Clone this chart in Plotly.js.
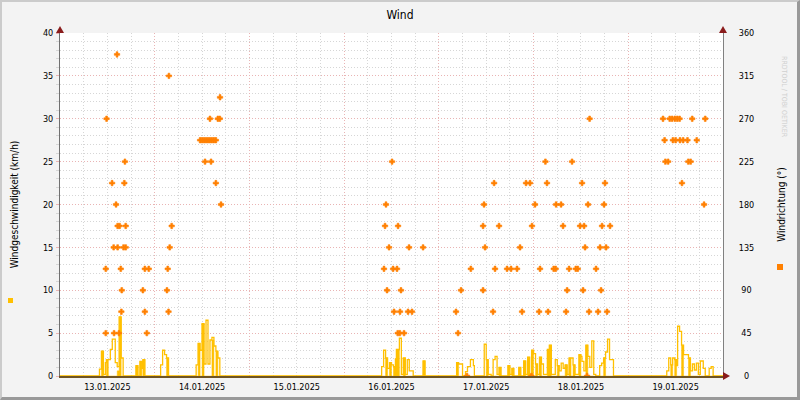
<!DOCTYPE html>
<html>
<head>
<meta charset="utf-8">
<script src="https://cdn.plot.ly/plotly-3.0.1.min.js"></script>
<style>
  html, body { margin: 0; padding: 0; background: #F3F3F3; }
  #wrap { position: relative; width: 800px; height: 400px; }
  #chart { width: 800px; height: 400px; }
  #frame { position: absolute; left: 0; top: 0; width: 800px; height: 400px; box-sizing: border-box;
           border-top: 2px solid #CBCBCB; border-left: 2px solid #CBCBCB;
           border-bottom: 3px solid #999999; border-right: 3px solid #999999; pointer-events: none; }
</style>
</head>
<body>
<div id="wrap"><div id="chart"></div><div id="frame"></div></div>
<script>
// ---- data (hours since 13.01.2025 00:00) ----
const startDay = Date.UTC(2025, 0, 13);
const speedHours = [0,10,10.5,11,11.5,11.75,12.25,12.75,13.25,14,14.5,15,15.5,16,19.25,19.75,20.25,20.75,21,21.5,
  25.5,26,26.5,27,27.5,34.5,35,35.5,36,36.5,37,37.5,38,38.5,39,39.5,40,40.5,
  81.5,82,82.5,83,83.5,84,84.5,85,85.25,86,86.5,87,87.5,88,88.5,89.5,92,92.5,
  100.5,101,102,102.75,103.25,104,104.75,105,107.5,108,108.5,109.25,109.75,110.25,110.75,111.25,111.75,
  113.5,114,114.5,115,116.25,116.75,117.5,118,118.5,119,119.5,120,120.5,121,121.5,122,122.5,123.5,124,124.5,
  125.5,126,126.5,127,127.5,128,128.5,129,129.5,130,130.5,131.5,132,132.25,132.75,133.25,133.75,134.25,134.75,135.25,135.75,
  136.75,137.25,137.75,138.25,138.75,139.25,140.25,
  153.75,154.25,154.75,155.25,155.75,156.25,156.5,157,157.5,158,159.25,159.75,160.25,160.75,161.25,161.75,162.25,163,163.5,164.5,165,165.5,168];
const gustKmh = [0,0.8,2.9,0.2,1.55,1.9,1.9,3.1,4.3,1.55,1.1,6.9,2.1,0,1.2,0,1.7,0.9,1.9,0,
  1.3,3.0,2.5,2.1,0,1.3,3.8,3.0,6.1,1.4,6.5,1.4,4.2,4.5,3.5,2.9,2.1,0,
  1.1,3.0,2.1,0.9,1.55,1.3,1.1,2.0,3.1,4.4,0.2,2.1,0.2,1.9,0.6,0,1.75,0,
  1.55,1.4,0,0.5,1.1,1.9,1.2,0,3.7,1.9,0.2,0,1.9,2.3,0.2,1.0,0,
  1.2,0.2,0.9,0,1.0,0,1.75,0.2,2.2,0.2,3.0,2.6,1.4,0.2,2.2,1.4,0.2,3.1,3.6,0.2,
  1.9,1.2,0.6,1.5,0.9,1.3,0.2,2.1,2.1,1.3,0.2,2.5,2.3,1.7,0.6,3.6,2.3,1.0,4.1,0.2,0,
  1.2,1.5,2.1,2.8,4.3,1.9,0,
  0.6,2.1,1.3,2.1,1.9,1.2,5.8,5.2,3.6,2.5,2.1,0.6,1.4,0.7,1.5,0.2,1.75,0.9,0,0.9,1.1,0,0];
const avgKmh = [0,0,2.9,0,0,1.9,0,0,0,0,0.6,6.9,0,0,1.2,0,1.7,0,1.9,0,
  0,0,0,2.1,0,0,3.8,0,6.1,0,0,0,0,4.2,0,2.9,0,0,
  0,0,2.1,0,1.55,0,1.1,2.0,3.1,0,0,2.1,0,0,0,0,1.75,0,
  1.55,0,0,0,0,0,0,0,0,1.9,0,0,0,0,0,1.0,0,
  1.2,0,0.9,0,1.0,0,1.75,0,2.2,0,3.0,0,1.4,0,2.2,0,0,3.1,3.6,0,
  0,1.2,0,0,0,1.3,0,2.1,0,1.3,0,2.5,0,0,0,3.6,0,0,0,0,0,
  0,0,2.1,0,0,0,0,
  0,0,1.3,0,1.9,0,0,0,3.6,0,2.1,0,0,0,0,0,0,0,0,0,0,0,0];

const dirHours = [11.8,11.6,11.6,13.2,13.7,13.6,14.2,14.45,14.6,14.6,14.95,15.1,15.4,15.55,15.65,16.3,16.45,16.1,16.65,16.65,
  21.0,21.5,21.5,22.5,22.0,27.1,27.3,27.5,27.6,27.8,28.3,
  38.0,40.0,40.5,40.55,35.5,36.0,36.5,37.0,37.5,38.0,38.5,39.0,39.5,36.75,38.27,39.5,40.8,
  84.14,82.6,82.36,85.66,83.38,88.45,92.0,82.1,84.4,85.4,82.87,86.4,84.64,86.16,88.19,89.2,85.58,86.1,87.18,
  100.35,100.86,101.62,103.14,104.1,107.2,107.2,107.45,107.7,109.73,110.0,110.24,111.25,113.28,114.29,115.81,116.57,117.08,
  118.09,119.1,119.46,119.6,120.37,121.4,121.64,123.0,123.4,123.67,125.1,125.6,125.7,126.97,127.47,128.23,128.5,129.0,129.75,
  130.7,131.2,131.78,132.29,132.54,132.8,133.05,133.55,133.8,134.06,134.2,135.83,136.34,136.85,137.1,137.35,137.86,138.1,138.37,138.62,139.38,
  152.8,154.5,155.1,155.8,156.4,157.0,160.2,163.5,153.2,155.3,156.0,157.1,157.9,159.0,161.35,153.4,154.1,159.2,159.8,157.6,163.2];
const dirDeg = [270,112.5,45,202.5,45,135,180,337.5,157.5,135,45,157.5,112.5,67.5,90,202.5,225,135,157.5,135,
  90,67.5,112.5,112.5,45,90,112.5,67.5,315,135,157.5,
  270,270,270,292.5,247.5,247.5,247.5,247.5,247.5,247.5,247.5,247.5,247.5,225,225,202.5,180,
  225,180,157.5,157.5,135,135,135,112.5,112.5,112.5,90,90,67.5,67.5,67.5,67.5,45,45,45,
  67.5,45,90,0,112.5,90,157.5,180,135,67.5,202.5,112.5,157.5,112.5,112.5,112.5,135,67.5,
  202.5,202.5,0,157.5,180,67.5,112.5,225,202.5,67.5,112.5,112.5,180,180,157.5,67.5,90,112.5,225,
  112.5,112.5,157.5,202.5,90,157.5,135,0,180,67.5,270,112.5,67.5,135,90,157.5,180,202.5,135,67.5,157.5,
  270,270,270,270,270,270,270,270,247.5,247.5,247.5,247.5,247.5,247.5,247.5,225,225,225,225,202.5,180];

const speedTicks = [0,5,10,15,20,25,30,35,40];
const dirTicks = [0,45,90,135,180,225,270,315,360];

const SPEED_COLOR = '#FFC000';
const DIR_COLOR = '#FF8000';
const FONT = 'DejaVu Sans Condensed, DejaVu Sans, sans-serif';
const MAJOR_GRID = '#E9B4B4';
const MINOR_GRID = '#D6D6D6';

function toTime(h) {
  return new Date(startDay + Math.round(h * 3600000)).toISOString().slice(0, 19).replace('T', ' ');
}
const speedTimes = speedHours.map(toTime);
const dirTimes = dirHours.map(toTime);
const dirTickText = dirTicks.map(v => '\u00a0'.repeat(3 - String(v).length) + String(v));

const traces = [
  { x: speedTimes, y: avgKmh, type: 'scatter', mode: 'lines', line: { shape: 'hv', width: 0.5, color: SPEED_COLOR },
    fill: 'tozeroy', fillcolor: SPEED_COLOR, hoverinfo: 'skip', showlegend: false },
  { x: speedTimes, y: gustKmh, type: 'scatter', mode: 'lines', line: { shape: 'hv', width: 1.3, color: SPEED_COLOR },
    hoverinfo: 'skip', showlegend: false },
  { x: dirTimes, y: dirDeg, yaxis: 'y2', type: 'scatter', mode: 'markers',
    marker: { symbol: 'cross', size: 4.5, color: DIR_COLOR, line: { width: 0.6, color: DIR_COLOR } }, showlegend: false }
];

const arrow = (xa, ya, path) => ({ type: 'path', xref: 'paper', yref: 'paper', xsizemode: 'pixel', ysizemode: 'pixel',
  xanchor: xa, yanchor: ya, path: path, fillcolor: '#8A1C1C', line: { width: 0 }, layer: 'above' });
const square = (xa, ya, x0, x1, y0, y1, c) => ({ type: 'rect', xref: 'paper', yref: 'paper', xsizemode: 'pixel', ysizemode: 'pixel',
  xanchor: xa, yanchor: ya, x0: x0, x1: x1, y0: y0, y1: y1, fillcolor: c, line: { width: 0 } });

const layout = {
  width: 800, height: 400,
  margin: { l: 60, r: 77, t: 33, b: 24 },
  paper_bgcolor: '#F3F3F3', plot_bgcolor: '#FFFFFF',
  font: { family: FONT, size: 9, color: '#000000' },
  title: { text: 'Wind', x: 0.5, xref: 'container', xanchor: 'center', y: 0.962, yref: 'container', yanchor: 'middle',
           font: { family: FONT, size: 12, color: '#000000' } },
  showlegend: false,
  xaxis: {
    type: 'date', range: [toTime(0), toTime(168)], tick0: toTime(0), dtick: 86400000,
    tickformat: '%d.%m.%Y', ticklabelmode: 'period',
    showgrid: true, gridcolor: MAJOR_GRID, griddash: '1px,2px', gridwidth: 1,
    minor: { dtick: 21600000, showgrid: true, gridcolor: MINOR_GRID, griddash: '1px,2px', gridwidth: 1 },
    showline: true, linecolor: '#6E5424', linewidth: 1.5, zeroline: false, ticks: '',
    tickfont: { family: FONT, size: 9 }, ticklabelstandoff: 2, fixedrange: true
  },
  yaxis: {
    range: [0, 40], tickvals: speedTicks, showgrid: true, gridcolor: MAJOR_GRID, griddash: '1px,2px',
    minor: { dtick: 1, showgrid: true, gridcolor: MINOR_GRID, griddash: '1px,2px', ticks: 'outside', ticklen: 3, tickcolor: MINOR_GRID },
    ticks: 'outside', ticklen: 3, tickcolor: MAJOR_GRID,
    showline: true, linecolor: '#707070', linewidth: 1, zeroline: false,
    tickfont: { family: FONT, size: 9 }, ticklabelstandoff: 1,
    title: { text: 'Windgeschwindigkeit (km/h)', font: { family: FONT, size: 10 }, standoff: 22 },
    fixedrange: true
  },
  yaxis2: {
    overlaying: 'y', side: 'right', range: [0, 360], tickvals: dirTicks, ticktext: dirTickText,
    showgrid: false, zeroline: false, showline: true, linecolor: '#808080', linewidth: 1, ticks: '',
    tickfont: { family: FONT, size: 9 }, ticklabelstandoff: 13,
    title: { text: 'Windrichtung (°)', font: { family: FONT, size: 10 }, standoff: 24 },
    fixedrange: true
  },
  shapes: [
    arrow(0, 1, 'M-4,0 L4,0 L0,7 Z'),
    arrow(1, 1, 'M-4,0 L4,0 L0,7 Z'),
    arrow(1, 0, 'M0,-4 L0,4 L7,0 Z'),
    square(0, 0, -52, -47, 73, 78, SPEED_COLOR),
    square(1, 0, 54, 60, 106, 112, DIR_COLOR)
  ],
  annotations: [
    { text: 'RRDTOOL / TOBI OETIKER', xref: 'paper', yref: 'paper', x: 1, y: 1, xshift: 67, yshift: -21, textangle: 90,
      showarrow: false, font: { family: FONT, size: 7, color: '#D0D0D0' } }
  ]
};

Plotly.newPlot('chart', traces, layout, { staticPlot: true, displayModeBar: false });
</script>
</body>
</html>
